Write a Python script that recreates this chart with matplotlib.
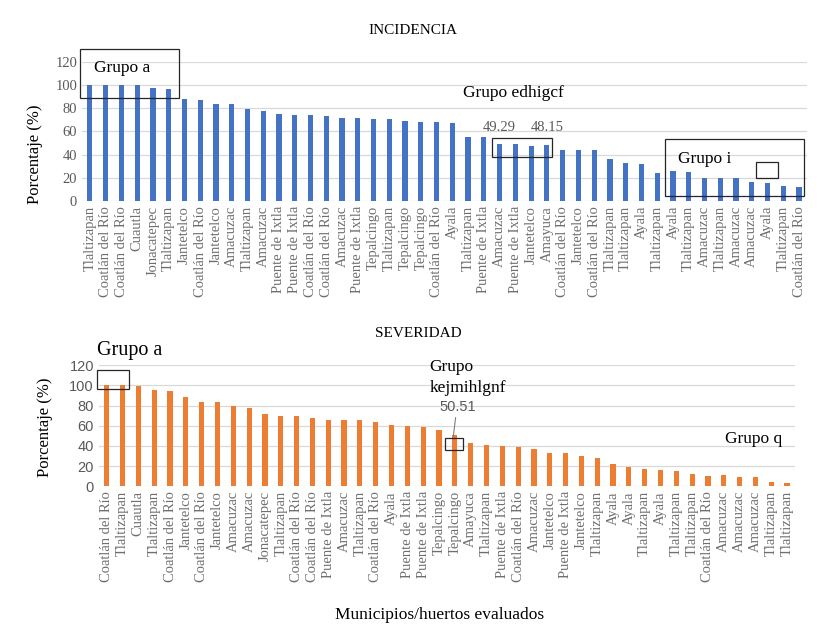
import matplotlib
matplotlib.use("Agg")
import matplotlib.pyplot as plt
from matplotlib.patches import Rectangle

plt.rcParams['font.family'] = ['Liberation Serif', 'DejaVu Serif']

# INCIDENCIA data
inc_labels = ['Tlaltizapan', 'Coatlán del Río', 'Coatlán del Río', 'Cuautla', 'Jonacatepec',
              'Tlaltizapan', 'Jantetelco', 'Coatlán del Río', 'Jantetelco', 'Amacuzac',
              'Tlaltizapan', 'Amacuzac', 'Puente de Ixtla', 'Puente de Ixtla', 'Coatlán del Río',
              'Coatlán del Río', 'Amacuzac', 'Puente de Ixtla', 'Tepalcingo', 'Tlaltizapan',
              'Tepalcingo', 'Tepalcingo', 'Coatlán del Río', 'Ayala', 'Tlaltizapan',
              'Puente de Ixtla', 'Amacuzac', 'Puente de Ixtla', 'Jantetelco', 'Amayuca',
              'Coatlán del Río', 'Jantetelco', 'Coatlán del Río', 'Tlaltizapan', 'Tlaltizapan',
              'Ayala', 'Tlaltizapan', 'Ayala', 'Tlaltizapan', 'Amacuzac',
              'Tlaltizapan', 'Amacuzac', 'Amacuzac', 'Ayala', 'Tlaltizapan', 'Coatlán del Río']
inc_values = [100, 100, 100, 100, 97.1, 96.8, 88, 87, 83.6, 83.6,
              79.6, 77.6, 75, 73.8, 73.8, 73.6, 71.5, 71.5, 70.7, 71,
              69, 68.4, 67.8, 67.2, 55.5, 55.2, 49.29, 49, 47.7, 48.15,
              44.2, 44.2, 43.9, 36.4, 32.7, 31.9, 23.9, 25.9, 25.3, 20.1,
              19.8, 19.8, 16.7, 15.5, 13.2, 11.8]

# SEVERIDAD data
sev_labels = ['Coatlán del Río', 'Tlaltizapan', 'Cuautla', 'Tlaltizapan', 'Coatlán del Río',
              'Jantetelco', 'Coatlán del Río', 'Jantetelco', 'Amacuzac', 'Amacuzac',
              'Jonacatepec', 'Tlaltizapan', 'Coatlán del Río', 'Coatlán del Río', 'Puente de Ixtla',
              'Amacuzac', 'Tlaltizapan', 'Coatlán del Río', 'Ayala', 'Puente de Ixtla',
              'Puente de Ixtla', 'Tepalcingo', 'Tepalcingo', 'Amayuca', 'Tlaltizapan',
              'Puente de Ixtla', 'Coatlán del Río', 'Amacuzac', 'Jantetelco', 'Puente de Ixtla',
              'Jantetelco', 'Tlaltizapan', 'Ayala', 'Ayala', 'Tlaltizapan',
              'Ayala', 'Tlaltizapan', 'Tlaltizapan', 'Coatlán del Río', 'Amacuzac',
              'Amacuzac', 'Amacuzac', 'Tlaltizapan', 'Tlaltizapan']
sev_values = [100, 100, 99, 95.5, 94.5, 88.3, 84, 83.5, 80, 78,
              72, 70, 69.4, 67.5, 66, 66, 66, 64, 61, 60,
              58.5, 55.5, 50.51, 43, 40.7, 40.3, 39.3, 36.7, 33, 33,
              30.4, 27.8, 21.8, 18.8, 17.2, 15.9, 14.9, 12.6, 10.2, 10.9,
              9.3, 9.6, 4.6, 3.3]

blue = '#4472C4'
orange = '#ED7D31'
grid = '#D9D9D9'
gray = '#595959'
label_gray = '#6E6E6E'

fig = plt.figure(figsize=(8.31, 6.42), dpi=100)
ax1 = fig.add_axes([0.0987, 0.687, 0.8723, 0.217])
ax2 = fig.add_axes([0.1189, 0.2425, 0.8378, 0.1885])


def style(ax, labels, sans_y=False):
    ax.set_ylim(0, 120)
    ax.set_xlim(-0.5, len(labels) - 0.5)
    ax.set_yticks(range(0, 121, 20))
    ax.yaxis.grid(True, color=grid, linewidth=0.9)
    ax.set_axisbelow(True)
    for s in ax.spines.values():
        s.set_visible(False)
    ax.tick_params(length=0, colors=gray)
    ax.set_xticks(range(len(labels)))
    ax.set_xticklabels(labels, rotation=90, fontsize=10.5, color=label_gray)
    for t in ax.get_yticklabels():
        t.set_fontsize(10.5)
        t.set_color(gray)
        if sans_y:
            t.set_family('Liberation Sans')


def box(ax, x0, x1, y0, y1):
    ax.add_patch(Rectangle((x0, y0), x1 - x0, y1 - y0, fill=False,
                           edgecolor='#262626', linewidth=0.9, clip_on=False, zorder=5))


# top chart
ax1.bar(range(len(inc_values)), inc_values, width=0.33, color=blue, zorder=3)
style(ax1, inc_labels)
box(ax1, -0.63, 5.65, 88.7, 131)
ax1.text(0.25, 114.6, 'Grupo a', fontsize=12.5, va='center', ha='left')
ax1.text(23.7, 93, 'Grupo edhigcf', fontsize=12.5, va='center', ha='left')
box(ax1, 25.5, 29.3, 37.9, 54.3)
ax1.text(26, 62.9, '49.29', fontsize=10.5, color=gray, ha='center', va='center')
ax1.text(29, 62.9, '48.15', fontsize=10.5, color=gray, ha='center', va='center')
box(ax1, 36.5, 45.3, 4.3, 53.4)
box(ax1, 42.3, 43.65, 19.8, 33.6)
ax1.text(37.3, 36.2, 'Grupo i', fontsize=12.5, va='center', ha='left')

# bottom chart
ax2.bar(range(len(sev_values)), sev_values, width=0.33, color=orange, zorder=3)
style(ax2, sev_labels, sans_y=True)
ax2.text(-0.61, 135, 'Grupo a', fontsize=14.5, va='center', ha='left', clip_on=False)
box(ax2, -0.61, 1.41, 96.5, 115.3)
ax2.text(20.4, 118.3, 'Grupo', fontsize=12.5, va='center', ha='left', clip_on=False)
ax2.text(20.4, 97.5, 'kejmihlgnf', fontsize=12.5, va='center', ha='left')
ax2.text(22.2, 78.6, '50.51', fontsize=10.5, color=gray, ha='center', va='center',
         family='Liberation Sans')
ax2.plot([22.05, 21.9], [68, 49], color='#7F7F7F', linewidth=0.8, zorder=4)
box(ax2, 21.4, 22.5, 36, 47.9)
ax2.text(39.1, 46.9, 'Grupo q', fontsize=12.5, va='center', ha='left')

fig.text(0.497, 0.953, 'INCIDENCIA', fontsize=11, ha='center', va='center')
fig.text(0.503, 0.481, 'SEVERIDAD', fontsize=11, ha='center', va='center')
fig.text(0.042, 0.759, 'Porcentaje (%)', fontsize=12, rotation=90, ha='center', va='center')
fig.text(0.054, 0.335, 'Porcentaje (%)', fontsize=12, rotation=90, ha='center', va='center')
fig.text(0.529, 0.042, 'Municipios/huertos evaluados', fontsize=12.5, ha='center', va='center')

fig.savefig('out.png', dpi=100)
